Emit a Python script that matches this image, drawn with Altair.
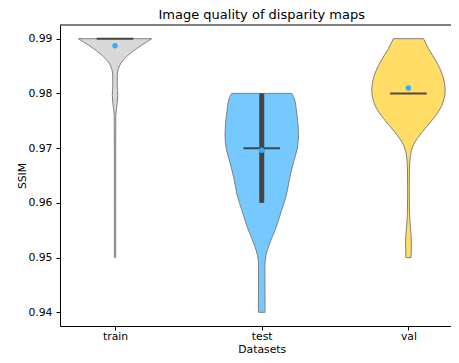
import altair as alt
import pandas as pd

datasets = ["train", "test", "val"]
colors = ["#d9d9d9", "#75c9ff", "#ffdd66"]

# violin profiles: SSIM value and relative density (1 = widest)
train_v = [0.9900, 0.9894, 0.9882, 0.9870, 0.9857, 0.9845, 0.9833, 0.9815, 0.9796, 0.9772, 0.9760, 0.9700, 0.9600, 0.9500]
train_w = [1.00, 0.86, 0.59, 0.36, 0.18, 0.09, 0.063, 0.06, 0.074, 0.04, 0.022, 0.018, 0.018, 0.018]

test_v = [0.9800, 0.9790, 0.9766, 0.9724, 0.9700, 0.9675, 0.9645, 0.9614, 0.9584, 0.9553, 0.9523, 0.9504, 0.9486, 0.9460, 0.9420, 0.9400]
test_w = [0.82, 0.89, 0.95, 1.00, 0.97, 0.87, 0.76, 0.67, 0.53, 0.38, 0.20, 0.115, 0.087, 0.087, 0.09, 0.09]

val_v = [0.9900, 0.9882, 0.9857, 0.9833, 0.9806, 0.9778, 0.9754, 0.9730, 0.9705, 0.9687, 0.9662, 0.9620, 0.9584, 0.9553, 0.9529, 0.9500]
val_w = [0.41, 0.545, 0.77, 0.93, 1.00, 0.91, 0.68, 0.38, 0.13, 0.055, 0.027, 0.022, 0.027, 0.055, 0.08, 0.07]

medians = [0.99, 0.97, 0.98]
q1s = [0.99, 0.96, 0.98]
q3s = [0.99, 0.98, 0.98]
means = [0.9887, 0.9696, 0.9810]
y_ticks = [0.94, 0.95, 0.96, 0.97, 0.98, 0.99]
chart_title = "Image quality of disparity maps"

profiles = [(train_v, train_w), (test_v, test_w), (val_v, val_w)]

stats = pd.DataFrame({"dataset": datasets, "pos": list(range(len(datasets))),
                      "median": medians, "q1": q1s, "q3": q3s, "mean": means})

FONT = "DejaVu Sans"
W, H = 391, 301

xscale = alt.Scale(domain=[-0.375, 2.29], nice=False, zero=False)
yscale = alt.Scale(domain=[0.9375, 0.9925], nice=False, zero=False)
center_x = 0.375 / 2.665 * W + 1.0 * W / 2.665  # pixel of the middle category

label_expr = "[" + ",".join("'%s'" % d for d in datasets) + "][datum.value]"
x_axis = alt.Axis(values=list(range(len(datasets))), labelExpr=label_expr, title="Datasets",
                  grid=False, tickSize=4, labelPadding=9.5, labelBaseline="alphabetic",
                  titleY=26, titleBaseline="alphabetic", titleX=center_x)
y_axis = alt.Axis(values=y_ticks, format=".2f", title="SSIM", grid=False,
                  tickSize=4, labelPadding=4, titleX=-34.5, titleBaseline="alphabetic")

layers = []
for i, (name, (vs, ws)) in enumerate(zip(datasets, profiles)):
    df = pd.DataFrame({"v": vs, "w": ws, "pos": i})
    area = alt.Chart(df).transform_calculate(
        lo="datum.pos - datum.w * 0.25", hi="datum.pos + datum.w * 0.25"
    ).mark_area(orient="horizontal", fill=colors[i], stroke="#808080", strokeWidth=1,
                interpolate="monotone", opacity=1).encode(
        y=alt.Y("v:Q", scale=yscale, axis=y_axis),
        x=alt.X("lo:Q", scale=xscale, axis=x_axis, stack=None),
        x2="hi:Q",
    )
    layers.append(area)

median_rule = alt.Chart(stats).transform_calculate(
    ml="datum.pos - 0.125", mh="datum.pos + 0.125"
).mark_rule(color="#333333", opacity=0.85, strokeWidth=2).encode(
    x=alt.X("ml:Q", scale=xscale, axis=x_axis), x2="mh:Q",
    y=alt.Y("median:Q", scale=yscale, axis=y_axis)
)

iqr_bar = alt.Chart(stats).mark_rule(color="#444444", strokeWidth=5).encode(
    x=alt.X("pos:Q", scale=xscale, axis=x_axis),
    y=alt.Y("q1:Q", scale=yscale, axis=y_axis), y2="q3:Q"
)

mean_dot = alt.Chart(stats).mark_circle(size=30, color="#38aaf7", opacity=1).encode(
    x=alt.X("pos:Q", scale=xscale, axis=x_axis),
    y=alt.Y("mean:Q", scale=yscale, axis=y_axis)
)

top_spine = alt.Chart(pd.DataFrame({"a": [0]})).mark_rule(color="black", strokeWidth=1).encode(
    x=alt.value(0), x2=alt.value(W), y=alt.value(0)
)

title_text = alt.Chart(pd.DataFrame({"t": [chart_title]})).mark_text(
    font=FONT, fontSize=13, color="black", align="center", baseline="alphabetic"
).encode(text="t:N", x=alt.value(center_x), y=alt.value(-6.5))

chart = alt.layer(*layers, median_rule, iqr_bar, mean_dot, top_spine, title_text).properties(
    width=W, height=H,
    autosize=alt.AutoSizeParams(type="none"),
    padding={"left": 52, "top": 17, "right": 0, "bottom": 29},
).configure_view(stroke=None).configure_axis(
    labelFont=FONT, titleFont=FONT, labelFontSize=10.8, titleFontSize=10.8,
    labelColor="black", titleColor="black", titleFontWeight="normal",
    domainColor="black", tickColor="black", domainWidth=1, tickWidth=1,
)

chart.save("out.html", embed_options={"renderer": "svg", "actions": False})
